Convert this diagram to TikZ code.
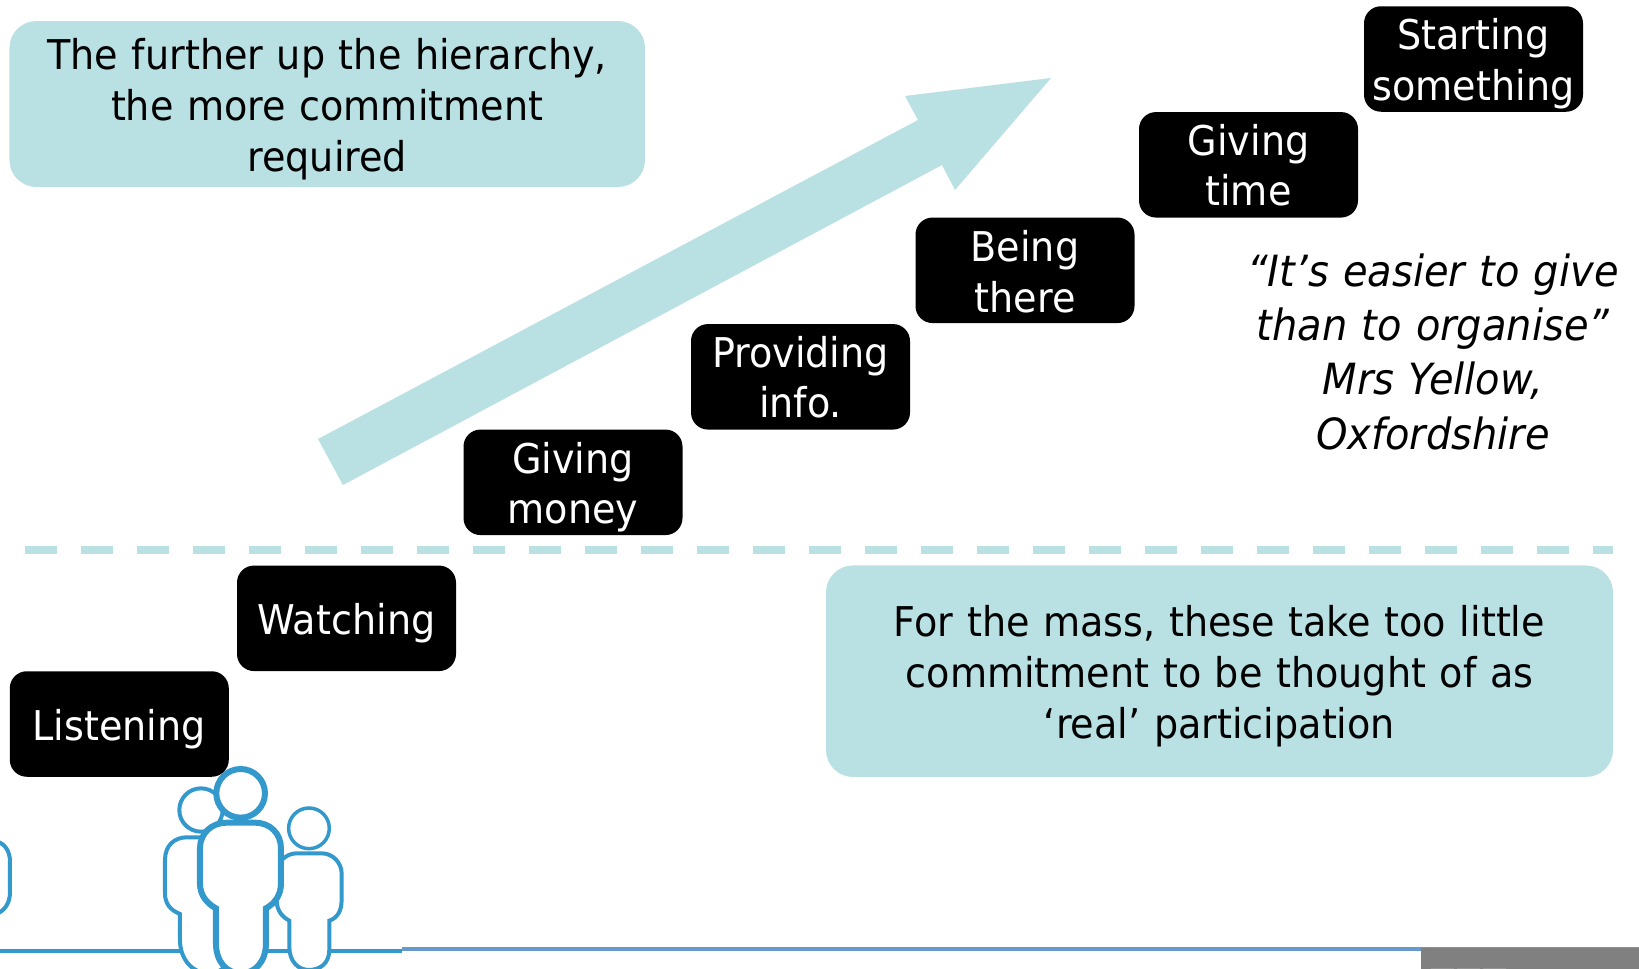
\documentclass[tikz,border=0pt]{standalone}
\usepackage{fontspec}
\setmainfont[FakeStretch=0.93,WordSpace=1.12]{DejaVu Sans}
\definecolor{teal}{HTML}{B9E0E3}
\definecolor{pblue}{HTML}{3399CC}
\definecolor{lblue}{HTML}{6699CC}
\newcommand{\tx}[2]{\raisebox{#1}[0pt][0pt]{\begin{tabular}[c]{@{}c@{}}#2\end{tabular}}}
\tikzset{
 stair/.style={fill=black,text=white,rounded corners=17pt,minimum width=219pt,minimum height=105.5pt,inner sep=0pt,font=\fontsize{41}{50.5}\selectfont},
 tealbox/.style={fill=teal,text=black,rounded corners=27pt,inner sep=0pt,font=\fontsize{41}{51}\selectfont},
 person/.style={draw=pblue,fill=white,line width=#1},
}
\begin{document}
\begin{tikzpicture}[x=1pt,y=-1pt]
\useasboundingbox (0,0) rectangle (1639,969);
\fill[white] (0,0) rectangle (1639,969);
% arrow
\fill[teal] (318,439) -- (343,485) -- (942,165) -- (955,190) -- (1051,78) -- (905,96) -- (918,120) -- cycle;
% dashed
\coordinate (da) at (25,550);
\coordinate (db) at (1613,550);
\draw[teal,line width=8pt,dash pattern=on 32pt off 24pt] (da) -- (db);
% teal boxes
\node[tealbox,minimum width=635.5pt,minimum height=166pt] (t1) at (327.2,104) {\tx{-12.5pt}{The further up the hierarchy,\\the more commitment\\required}};
\node[tealbox,minimum width=787pt,minimum height=211.5pt] (t2) at (1219.5,671.2) {\tx{-12pt}{For the mass, these take too little\\commitment to be thought of as\\‘real’ participation}};
% stairs
\node[stair] (s1) at (119.3,724) {\tx{-12.5pt}{Listening}};
\node[stair] (s2) at (346.5,618.3) {\tx{-12pt}{Watching}};
\node[stair] (s3) at (573,482.3) {\tx{-12.5pt}{Giving\\money}};
\node[stair] (s4) at (800.5,376.8) {\tx{-12pt}{Providing\\info.}};
\node[stair] (s5) at (1025,270.3) {\tx{-13pt}{Being\\there}};
\node[stair] (s6) at (1248.5,164.8) {\tx{-12pt}{Giving\\time}};
\node[stair] (s7) at (1473.5,59) {\tx{-12pt}{Starting\\something}};
% quote
\node[inner sep=0pt,font=\fontsize{43}{54.4}\selectfont\itshape] (q) at (1433,353) {\tx{-10pt}{“It’s easier to give\\than to organise”\\Mrs Yellow,\\Oxfordshire}};
% base lines
\coordinate (l0) at (0,950.8); \coordinate (l1) at (402,950.8);
\coordinate (l2) at (402,949); \coordinate (l3) at (1639,949);
\draw[pblue,line width=4pt] (l0) -- (l1);
\draw[lblue,line width=4pt] (l2) -- (l3);
\fill[black!50] (1421,948) rectangle (1639,969);
\foreach \a in {1431,1457,1483}{\fill[black!42] (\a,967.5) rectangle ++(23,2);}
% people
\begin{scope}[shift={(0,740)},x=0.3333pt,y=-0.3333pt]
\draw[person=4pt] (-10,305) .. controls (15,310) and (30,335) .. (30,365) -- (30,455) .. controls (30,490) and (15,510) .. (-10,522);
% back-left
\draw[person=4pt] (603,210) circle [radius=65];
\draw[person=4pt] (540,600) -- (540,522) .. controls (510,510) and (495,490) .. (495,460) -- (495,360) .. controls (495,315) and (525,292) .. (560,292) -- (640,292) .. controls (680,292) and (710,330) .. (710,360) -- (710,600) .. controls (710,660) and (670,700) .. (625,700) .. controls (580,700) and (540,660) .. (540,600) -- cycle;
% back-right
\draw[person=3.5pt] (927,265) circle [radius=61];
\draw[person=4pt] (868,620) -- (868,542) .. controls (845,530) and (830,510) .. (830,480) -- (830,400) .. controls (830,365) and (860,340) .. (890,340) -- (965,340) .. controls (1000,340) and (1025,370) .. (1025,400) -- (1025,480) .. controls (1025,515) and (1010,535) .. (988,542) -- (988,630) .. controls (988,670) and (960,690) .. (927,690) .. controls (895,690) and (868,665) .. (868,620) -- cycle;
% front
\draw[person=6pt] (722,160) circle [radius=73];
\draw[person=6pt] (648,610) -- (648,505) .. controls (620,490) and (600,465) .. (600,430) -- (600,325) .. controls (600,280) and (635,248) .. (680,248) -- (765,248) .. controls (810,248) and (843,280) .. (843,325) -- (843,430) .. controls (843,465) and (825,490) .. (798,505) -- (798,610) .. controls (798,665) and (765,700) .. (723,700) .. controls (680,700) and (648,665) .. (648,610) -- cycle;
\end{scope}
\end{tikzpicture}
\end{document}
